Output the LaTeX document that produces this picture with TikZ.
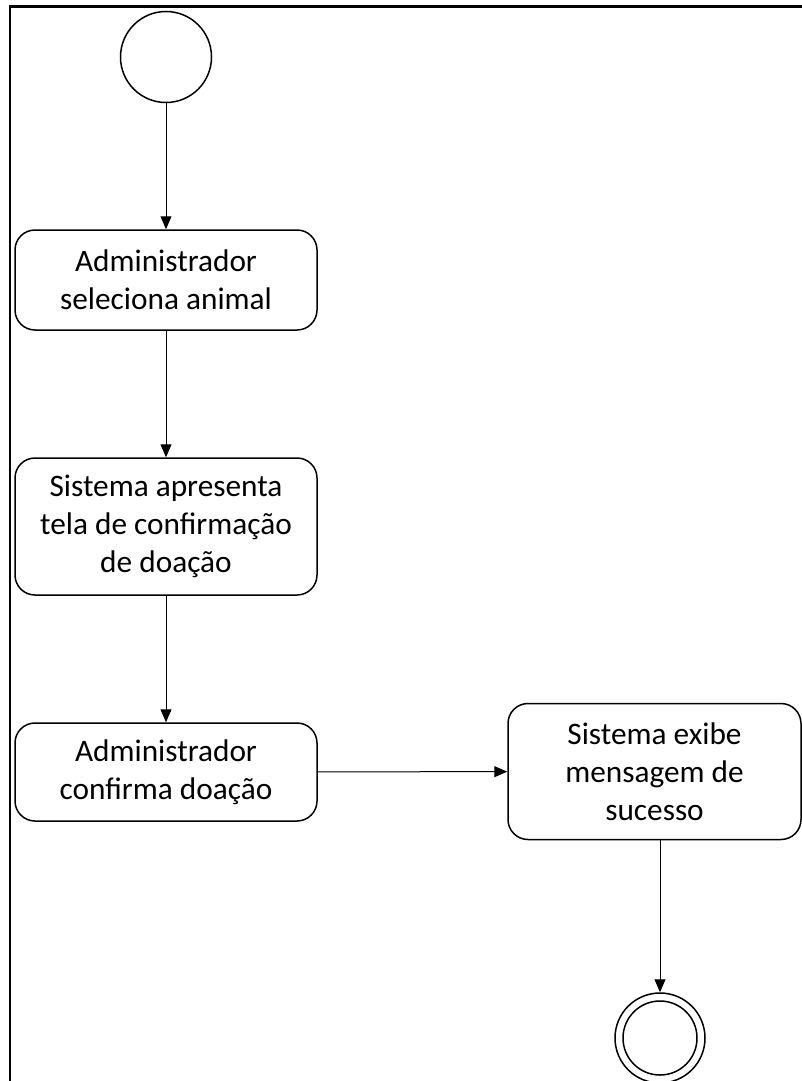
\documentclass[tikz,border=0pt]{standalone}
\usepackage{fontspec}
\setmainfont{Carlito}
\usetikzlibrary{arrows.meta}
\begin{document}
\begin{tikzpicture}[x=1pt,y=-1pt,
  act/.style={draw=black,line width=1.5pt,rounded corners=20pt,align=center,
    font=\fontsize{31.3pt}{38pt}\selectfont,inner sep=0pt},
  flow/.style={draw=black,line width=1pt,-{Triangle[length=13pt,width=11pt]}}]
\useasboundingbox (0,0) rectangle (802,1081);
\fill[white] (0,0) rectangle (802,1081);
\draw[line width=2.6pt] (10,1095) -- (10,6.5) -- (815,6.5);
\node[draw,circle,line width=1.5pt,minimum size=91pt,inner sep=0pt] (start) at (166,57) {};
\node[act,minimum width=302pt,minimum height=100pt] (a1) at (166,280) {Administrador\\seleciona animal};
\node[act,minimum width=302pt,minimum height=137pt] (a2) at (166,526.5) {Sistema apresenta\\tela de confirmação\\de doação};
\node[act,minimum width=302pt,minimum height=98pt] (a3) at (166,772) {Administrador\\confirma doação};
\node[act,minimum width=293pt,minimum height=136pt] (a4) at (654.5,771.5) {Sistema exibe\\mensagem de\\sucesso};
\node[draw,circle,line width=1.5pt,minimum size=90pt,inner sep=0pt] (end) at (660,1038) {};
\node[draw,circle,line width=1.5pt,minimum size=74pt,inner sep=0pt] (endin) at (660,1038) {};
\draw[flow] (start) -- (a1);
\draw[flow] (a1) -- (a2);
\draw[flow] (a2) -- (a3);
\draw[flow] (a3) -- (a4);
\draw[flow] (a4.south -| end.north) -- (end.north);
\end{tikzpicture}
\end{document}
